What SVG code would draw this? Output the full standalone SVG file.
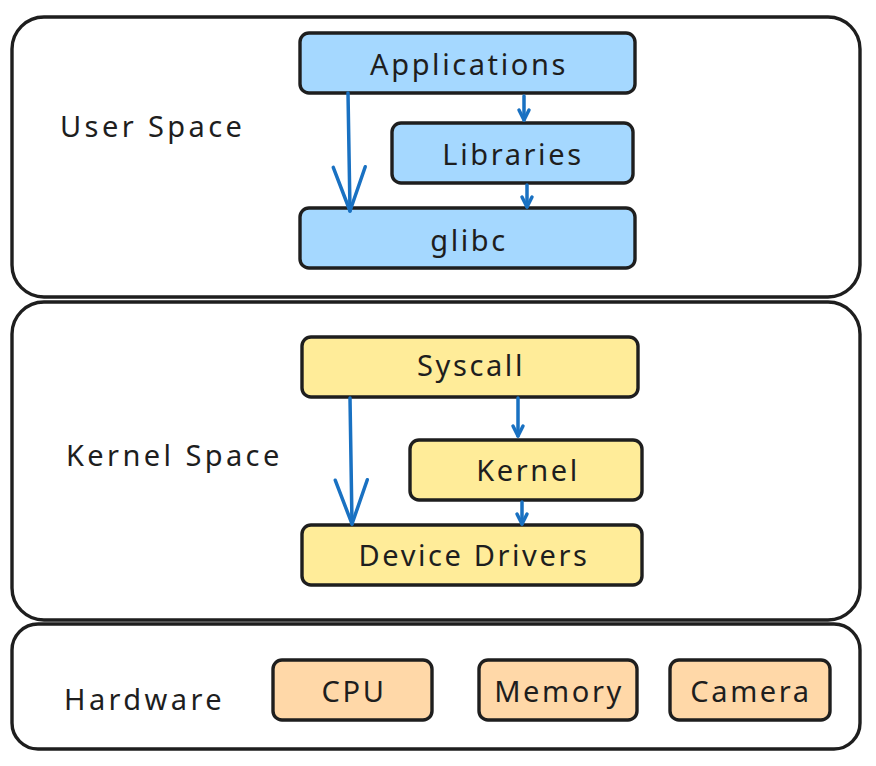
<svg xmlns="http://www.w3.org/2000/svg" width="876" height="766" viewBox="0 0 876 766">
<defs>
<style>
.layer{fill:#ffffff;stroke:#1e1e1e;stroke-width:3.4}
.blue{fill:#a5d8ff;stroke:#1e1e1e;stroke-width:3.4}
.yellow{fill:#ffec99;stroke:#1e1e1e;stroke-width:3.4}
.orange{fill:#ffd8a8;stroke:#1e1e1e;stroke-width:3.4}
.lbl{font-family:"Noto Sans","DejaVu Sans",sans-serif;font-size:29px;letter-spacing:2.6px;fill:#1e1e1e;text-anchor:middle;dominant-baseline:central}
.side{font-family:"Noto Sans","DejaVu Sans",sans-serif;font-size:29px;letter-spacing:3.4px;fill:#1e1e1e;dominant-baseline:central}
.conn{stroke:#1971c2;stroke-width:3.5;fill:none;stroke-linecap:round}
</style>
<marker id="bigHead" viewBox="-50 -20 56 40" refX="0" refY="0" markerWidth="56" markerHeight="40" markerUnits="userSpaceOnUse" orient="auto">
<path d="M-44,-16 L0,0 L-44,16" fill="none" stroke="#1971c2" stroke-width="3.5" stroke-linecap="round" stroke-linejoin="round"/>
</marker>
<marker id="smallHead" viewBox="-14 -9 18 18" refX="0" refY="0" markerWidth="18" markerHeight="18" markerUnits="userSpaceOnUse" orient="auto">
<path d="M-10,-5 L0,0 L-10,5" fill="none" stroke="#1971c2" stroke-width="3.5" stroke-linecap="round" stroke-linejoin="round"/>
</marker>
</defs>
<rect width="876" height="766" fill="#ffffff"/>

<g id="user-space">
<rect class="layer" x="12" y="17" width="848" height="280" rx="32"/>
<text class="side" x="60" y="125">User Space</text>
</g>
<g id="kernel-space">
<rect class="layer" x="12" y="302" width="848" height="318" rx="32"/>
<text class="side" x="66" y="454">Kernel Space</text>
</g>
<g id="hardware">
<rect class="layer" x="12" y="624" width="848" height="125" rx="26"/>
<text class="side" x="64" y="698">Hardware</text>
</g>

<g id="applications">
<rect class="blue" x="300" y="33" width="335" height="60" rx="9"/>
<text class="lbl" x="469" y="63">Applications</text>
</g>
<g id="libraries">
<rect class="blue" x="392" y="123" width="241" height="60" rx="9"/>
<text class="lbl" x="513" y="153">Libraries</text>
</g>
<g id="glibc">
<rect class="blue" x="300" y="208" width="335" height="60" rx="9"/>
<text class="lbl" x="469" y="239">glibc</text>
</g>

<g id="syscall">
<rect class="yellow" x="302" y="337" width="336" height="60" rx="9"/>
<text class="lbl" x="471" y="364">Syscall</text>
</g>
<g id="kernel">
<rect class="yellow" x="410" y="440" width="232" height="60" rx="9"/>
<text class="lbl" x="528" y="469">Kernel</text>
</g>
<g id="device-drivers">
<rect class="yellow" x="302" y="525" width="340" height="60" rx="9"/>
<text class="lbl" x="474" y="554">Device Drivers</text>
</g>

<g id="cpu">
<rect class="orange" x="273" y="660" width="159" height="60" rx="9"/>
<text class="lbl" x="354" y="690">CPU</text>
</g>
<g id="memory">
<rect class="orange" x="479" y="660" width="158" height="60" rx="9"/>
<text class="lbl" x="559" y="690">Memory</text>
</g>
<g id="camera">
<rect class="orange" x="670" y="660" width="160" height="60" rx="9"/>
<text class="lbl" x="751" y="690">Camera</text>
</g>

<g id="connectors">
<path class="conn" d="M348,93 L350,211" marker-end="url(#bigHead)"/>
<path class="conn" d="M524,96 L524,120" marker-end="url(#smallHead)"/>
<path class="conn" d="M527,185 L527,207" marker-end="url(#smallHead)"/>
<path class="conn" d="M350,398 L352,524" marker-end="url(#bigHead)"/>
<path class="conn" d="M518,398 L518,436" marker-end="url(#smallHead)"/>
<path class="conn" d="M522,502 L522,524" marker-end="url(#smallHead)"/>
</g>
</svg>
